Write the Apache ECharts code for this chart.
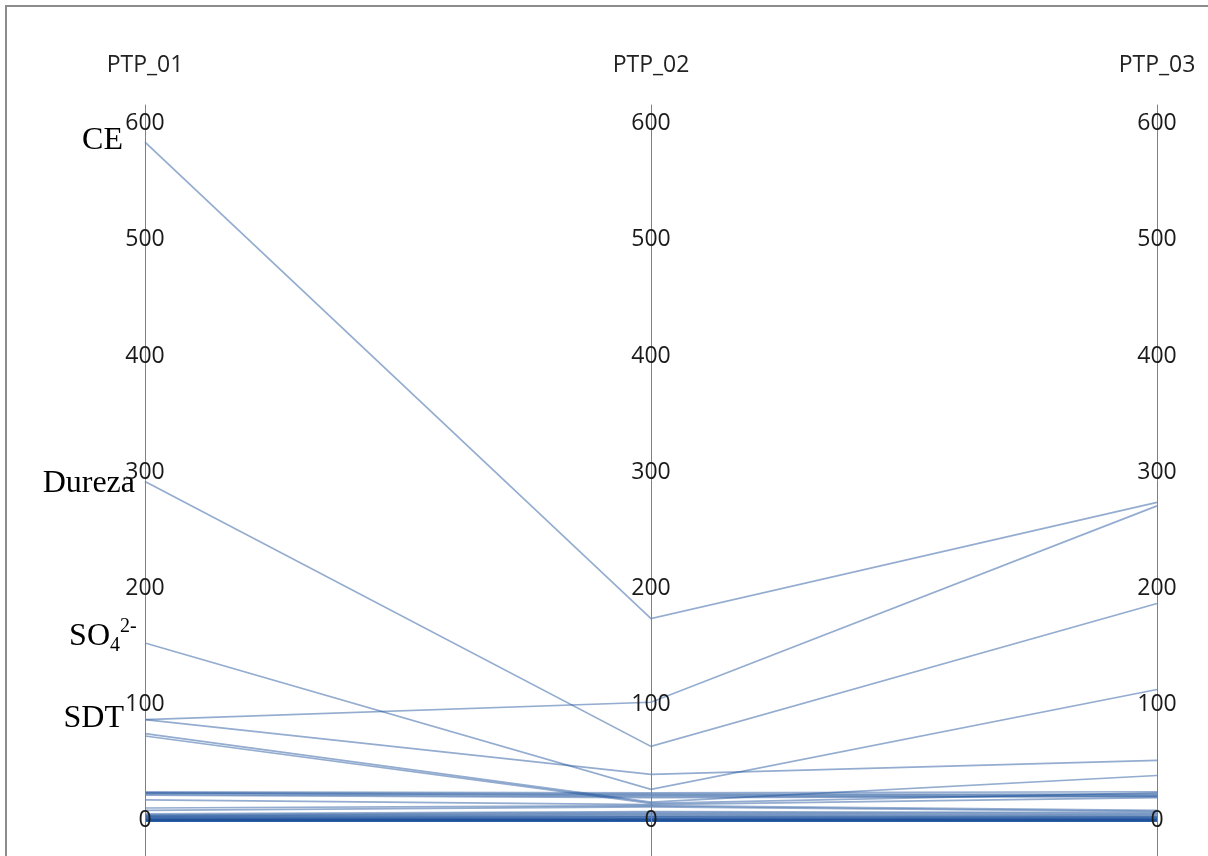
<!DOCTYPE html>
<html>
<head>
<meta charset="utf-8">
<script src="https://cdn.jsdelivr.net/npm/echarts@6/dist/echarts.min.js"></script>
<style>
html,body{margin:0;padding:0;background:#fff;}
#chart{width:1208px;height:856px;}
</style>
</head>
<body>
<div id="chart"></div>
<script>
// Axis (category) names
const axisNames = ['PTP_01', 'PTP_02', 'PTP_03'];
// Values of each parameter line at each station
const ptp01 = [584, 292, 153, 87, 87, 75, 73, 25, 24, 24, 23, 22, 18, 11, 9, 6, 5, 4.5, 4, 3.5, 3, 2.5, 2, 1.5, 1.2, 1, 0.8, 0.5, 0.4, 0.3, 0.2, 0.1, 0, 0, 0, 0];
const ptp02 = [174, 64, 27, 102, 40, 16, 15, 24, 23, 22, 21, 20, 14, 13, 12, 8, 7, 6, 5, 4, 3.5, 3, 2, 2, 1.5, 1, 1, 0.5, 0.4, 0.3, 0.2, 0.1, 0, 0, 0, 0];
const ptp03 = [274, 187, 113, 271, 52, 39, 24, 25, 23, 22, 21, 21, 20, 9, 8, 7, 6, 5, 4, 3.5, 3, 2.5, 2, 1.5, 1.2, 1, 1, 0.5, 0.4, 0.3, 0.2, 0.1, 0, 0, 0, 0];
// Axis scale
const axisMin = -100;
const axisMax = 616;
const axisStep = 100;

const rows = ptp01.map((v, i) => [v, ptp02[i], ptp03[i]]);

const chart = echarts.init(document.getElementById('chart'), null, {renderer: 'canvas'});

const labelFont = '"Open Sans", "DejaVu Sans", sans-serif';
const serif = '"Liberation Serif", "Times New Roman", serif';

const option = {
  backgroundColor: '#ffffff',
  animation: false,
  parallel: {
    left: 145,
    right: 51,
    top: 105,
    height: 832,
    layout: 'horizontal',
    parallelAxisDefault: {
      type: 'value',
      min: axisMin,
      max: axisMax,
      interval: axisStep,
      nameLocation: 'end',
      nameGap: 28,
      nameTextStyle: {fontSize: 23, color: '#222', fontFamily: labelFont},
      axisLine: {lineStyle: {color: '#808080', width: 1}},
      axisTick: {show: false},
      splitLine: {show: false},
      axisLabel: {
        show: true,
        margin: 0,
        align: 'center',
        fontSize: 23,
        color: '#1a1a1a',
        fontFamily: labelFont,
        showMinLabel: false,
        showMaxLabel: false
      }
    }
  },
  parallelAxis: axisNames.map((n, i) => ({dim: i, name: n})),
  graphic: [
    {type: 'rect', silent: true, shape: {x: 6, y: 6, width: 1400, height: 1000},
     style: {fill: 'none', stroke: '#8c8c8c', lineWidth: 2}},
    {type: 'text', silent: true, style: {x: 123, y: 141, text: 'CE', font: '32px ' + serif, fill: '#000', textAlign: 'right', textVerticalAlign: 'middle'}},
    {type: 'text', silent: true, style: {x: 135, y: 484, text: 'Dureza', font: '32px ' + serif, fill: '#000', textAlign: 'right', textVerticalAlign: 'middle'}},
    {type: 'text', silent: true, style: {x: 110, y: 637, text: 'SO', font: '32px ' + serif, fill: '#000', textAlign: 'right', textVerticalAlign: 'middle'}},
    {type: 'text', silent: true, style: {x: 110, y: 646, text: '4', font: '20px ' + serif, fill: '#000', textAlign: 'left', textVerticalAlign: 'middle'}},
    {type: 'text', silent: true, style: {x: 120, y: 627, text: '2-', font: '20px ' + serif, fill: '#000', textAlign: 'left', textVerticalAlign: 'middle'}},
    {type: 'text', silent: true, style: {x: 124, y: 719, text: 'SDT', font: '32px ' + serif, fill: '#000', textAlign: 'right', textVerticalAlign: 'middle'}}
  ],
  series: [{
    type: 'parallel',
    smooth: false,
    silent: true,
    lineStyle: {color: 'rgb(30,82,155)', width: 1.7, opacity: 0.48},
    emphasis: {disabled: true},
    data: rows
  }]
};
chart.setOption(option);
</script>
</body>
</html>
